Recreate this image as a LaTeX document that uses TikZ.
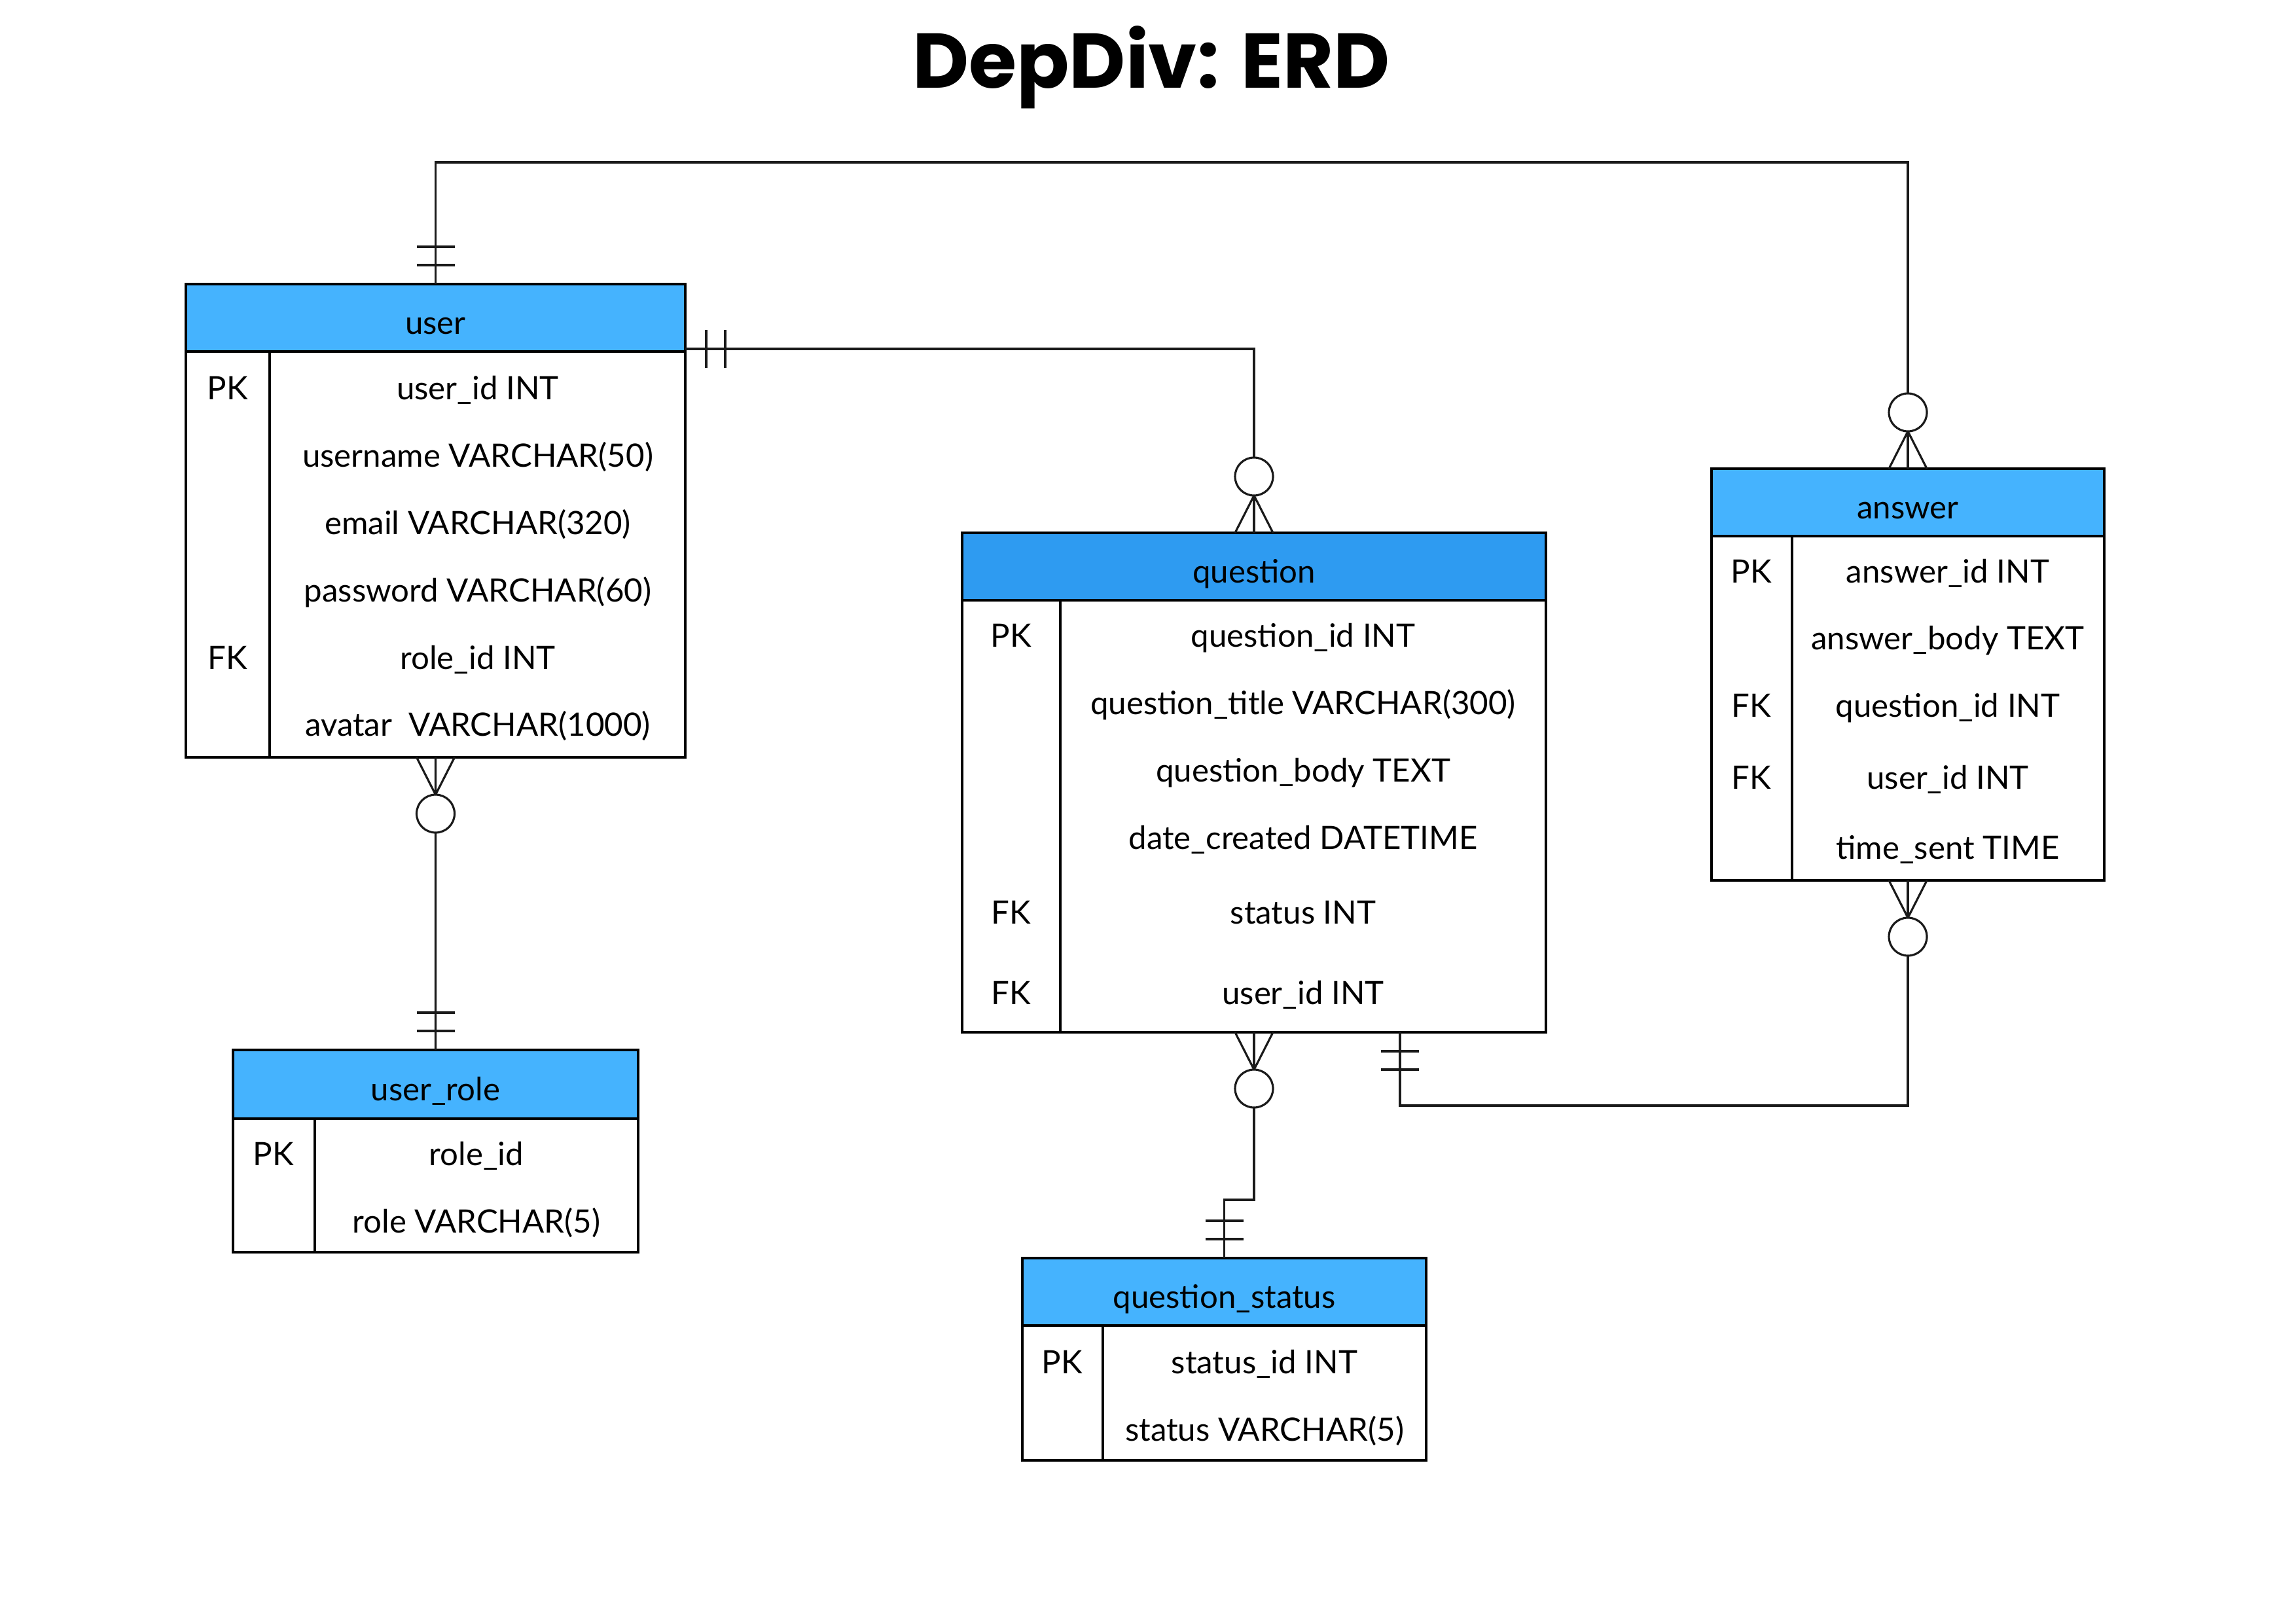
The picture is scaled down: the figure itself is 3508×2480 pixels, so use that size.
\documentclass[tikz,border=0pt]{standalone}
\usepackage{fontspec}
\setmainfont{Lato}
\newfontfamily\titlefont{Poppins}
\usetikzlibrary{calc}
\definecolor{hdrblue}{HTML}{45B3FE}
\definecolor{hdrdark}{HTML}{2E9BF1}
\definecolor{inkline}{HTML}{1A1A1A}
\tikzset{
  tbl/.style={draw=black, line width=1.1pt},
  hdr/.style={tbl, fill=hdrblue, inner sep=0pt, outer sep=0pt, anchor=north west,
              font=\fontsize{14}{17}\selectfont, text height=14pt, text depth=0pt},
  tblbody/.style={tbl, fill=white, inner sep=0pt, outer sep=0pt, anchor=north west},
  fld/.style={inner sep=0pt, anchor=mid, yshift=-0.9mm, font=\fontsize{14}{17}\selectfont},
  conn/.style={draw=inkline, line width=0.9pt},
  erone/.pic={\draw[conn] (-29,-29)--(29,-29) (-29,-57)--(29,-57);},
  ermany/.pic={\draw[conn] (-29,0)--(0,-57)--(29,0);
               \draw[conn, fill=white] (0,-86) circle[radius=29];}
}
\begin{document}
\begin{tikzpicture}[x=0.1mm, y=-0.1mm]
\useasboundingbox[fill=white] (0,0) rectangle (3508,2480);

% title
\node[anchor=base, inner sep=0pt, font=\titlefont\bfseries\fontsize{33.7}{40}\selectfont] (title) at (1759,134) {DepDiv: ERD};

% ---------- user ----------
\node[hdr, minimum width=76.3mm, minimum height=10.3mm] (userhead) at (284,434) {user};
\node[tblbody, minimum width=76.3mm, minimum height=62mm] (userbody) at (userhead.south west) {};
\draw[tbl] ([xshift=12.8mm]userbody.north west) -- ([xshift=12.8mm]userbody.south west);
\node[fld] (u-k1) at (348,593) {PK};
\node[fld] (u-k5) at (348,1005) {FK};
\node[fld] (u-f1) at (730,593) {user\_id INT};
\node[fld] (u-f2) at (730,696) {username VARCHAR(50)};
\node[fld] (u-f3) at (730,799) {email VARCHAR(320)};
\node[fld] (u-f4) at (730,902) {password VARCHAR(60)};
\node[fld] (u-f5) at (730,1005) {role\_id INT};
\node[fld] (u-f6) at (730,1107) {avatar\ \ VARCHAR(1000)};

% ---------- user_role ----------
\node[hdr, minimum width=61.9mm, minimum height=10.5mm] (rolehead) at (356,1604) {user\_role};
\node[tblbody, minimum width=61.9mm, minimum height=20.4mm] (rolebody) at (rolehead.south west) {};
\draw[tbl] ([xshift=12.5mm]rolebody.north west) -- ([xshift=12.5mm]rolebody.south west);
\node[fld] (r-k1) at (418,1763) {PK};
\node[fld] (r-f1) at (728,1763) {role\_id};
\node[fld] (r-f2) at (728,1866) {role VARCHAR(5)};

% ---------- question ----------
\node[hdr, fill=hdrdark, minimum width=89.2mm, minimum height=10.3mm] (questionhead) at (1470,814) {question};
\node[tblbody, minimum width=89.2mm, minimum height=66mm] (questionbody) at (questionhead.south west) {};
\draw[tbl] ([xshift=15mm]questionbody.north west) -- ([xshift=15mm]questionbody.south west);
\node[fld] (q-k1) at (1545,971) {PK};
\node[fld] (q-k5) at (1545,1394) {FK};
\node[fld] (q-k6) at (1545,1517) {FK};
\node[fld] (q-f1) at (1991,971) {question\_id INT};
\node[fld] (q-f2) at (1991,1074) {question\_title VARCHAR(300)};
\node[fld] (q-f3) at (1991,1177) {question\_body TEXT};
\node[fld] (q-f4) at (1991,1280) {date\_created DATETIME};
\node[fld] (q-f5) at (1991,1394) {status INT};
\node[fld] (q-f6) at (1991,1517) {user\_id INT};

% ---------- question_status ----------
\node[hdr, minimum width=61.7mm, minimum height=10.3mm] (statushead) at (1562,1922) {question\_status};
\node[tblbody, minimum width=61.7mm, minimum height=20.6mm] (statusbody) at (statushead.south west) {};
\draw[tbl] ([xshift=12.3mm]statusbody.north west) -- ([xshift=12.3mm]statusbody.south west);
\node[fld] (s-k1) at (1623,2081) {PK};
\node[fld] (s-f1) at (1932,2081) {status\_id INT};
\node[fld] (s-f2) at (1932,2184) {status VARCHAR(5)};

% ---------- answer ----------
\node[hdr, minimum width=60mm, minimum height=10.3mm] (answerhead) at (2615,716) {answer};
\node[tblbody, minimum width=60mm, minimum height=52.6mm] (answerbody) at (answerhead.south west) {};
\draw[tbl] ([xshift=12.3mm]answerbody.north west) -- ([xshift=12.3mm]answerbody.south west);
\node[fld] (a-k1) at (2676,873) {PK};
\node[fld] (a-k3) at (2676,1078) {FK};
\node[fld] (a-k4) at (2676,1188) {FK};
\node[fld] (a-f1) at (2976,873) {answer\_id INT};
\node[fld] (a-f2) at (2976,975) {answer\_body TEXT};
\node[fld] (a-f3) at (2976,1078) {question\_id INT};
\node[fld] (a-f4) at (2976,1188) {user\_id INT};
\node[fld] (a-f5) at (2976,1295) {time\_sent TIME};

% ---------- connectors ----------
\coordinate (topbend) at ($(answerhead.north)+(0,-468)$);
\coordinate (qfk) at ($(questionbody.south west)!0.75!(questionbody.south east)$);
\coordinate (ueast) at ($(userhead.south east)+(0,-4)$);

% user -- answer
\draw[conn] (userhead.north) |- (topbend) -- (answerhead.north);
\pic at (userhead.north) {erone};
\pic at (answerhead.north) {ermany};

% user -- question
\draw[conn] (ueast) -| (questionhead.north);
\draw[conn] ($(ueast)+(32,-29)$) -- ($(ueast)+(32,29)$)
            ($(ueast)+(61,-29)$) -- ($(ueast)+(61,29)$);
\pic at (questionhead.north) {ermany};

% user -- user_role
\draw[conn] (userbody.south) -- (rolehead.north);
\pic[yscale=-1] at (userbody.south) {ermany};
\pic at (rolehead.north) {erone};

% question -- question_status
\draw[conn] (questionbody.south) -- ++(0,256) -| (statushead.north);
\pic[yscale=-1] at (questionbody.south) {ermany};
\pic at (statushead.north) {erone};

% question -- answer
\draw[conn] (qfk) -- ++(0,112) -| (answerbody.south);
\pic[yscale=-1] at (qfk) {erone};
\pic[yscale=-1] at (answerbody.south) {ermany};

\end{tikzpicture}
\end{document}
